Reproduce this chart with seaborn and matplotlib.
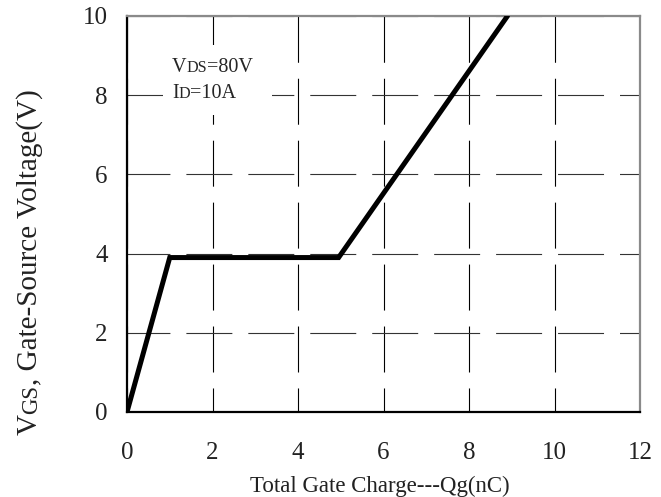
import matplotlib
matplotlib.use("Agg")
import matplotlib.pyplot as plt
from matplotlib.patches import Rectangle
import seaborn as sns

# Gate charge curve: VGS vs total gate charge
qg_nc = [0.0, 1.0, 4.95, 8.9]
vgs_v = [0.0, 3.9, 3.9, 10.0]

x_ticks = [0, 2, 4, 6, 8, 10, 12]
y_ticks = [0, 2, 4, 6, 8, 10]

sns.set_style("white")
plt.rcParams["font.family"] = ["Liberation Serif", "DejaVu Serif"]
plt.rcParams["lines.scale_dashes"] = False

fig = plt.figure(figsize=(6.61, 4.97), dpi=100)
ax = fig.add_axes([127 / 661, 85 / 497, 513 / 661, 396 / 497])

sns.lineplot(x=qg_nc, y=vgs_v, ax=ax, color="black", linewidth=3.6,
             solid_joinstyle="miter", zorder=3)

ax.set_xlim(0, 12)
ax.set_ylim(0, 10)
ax.set_xticks(x_ticks)
ax.set_yticks(y_ticks)
ax.set_xticklabels([str(t) for t in x_ticks])
ax.set_yticklabels([str(t) for t in y_ticks])
ax.tick_params(axis="both", length=0, labelsize=18, colors="#222222")
ax.tick_params(axis="x", pad=21.5)
ax.tick_params(axis="y", pad=14)

# long-dash grid
ax.set_axisbelow(True)
ax.xaxis.grid(True, color="black", linewidth=0.8, linestyle=(15.8, (33.1, 11.5)))
ax.yaxis.grid(True, color="#333333", linewidth=0.8, linestyle=(2.2, (33.1, 11.5)))

for side in ("left", "bottom"):
    ax.spines[side].set_color("black")
    ax.spines[side].set_linewidth(1.6)
for side in ("top", "right"):
    ax.spines[side].set_color("#8a8a8a")
    ax.spines[side].set_linewidth(1.6)

# white panel behind the test conditions
ax.add_patch(Rectangle((0.07, 0.75), 0.213, 0.177, transform=ax.transAxes,
                       facecolor="white", edgecolor="none", zorder=1))

def cond_text(x, y, main, sub, rest, size=14.5):
    t1 = ax.text(x, y, main, transform=ax.transAxes, va="baseline",
                 ha="left", fontsize=size, zorder=4)
    t2 = ax.annotate(sub, xy=(1, y), xycoords=(t1, "axes fraction"),
                     va="baseline", ha="left", fontsize=size * 0.8, zorder=4)
    ax.annotate(rest, xy=(1, y), xycoords=(t2, "axes fraction"),
                va="baseline", ha="left", fontsize=size, zorder=4)

cond_text(0.0877, 0.8586, "V", "DS", "=80V")
cond_text(0.0877, 0.7929, "I", "D", "=10A")

# axis titles
fig.text(380 / 661, 5 / 497, "Total Gate Charge---Qg(nC)", ha="center",
         va="baseline", fontsize=16.5, color="#222222")

yl_size = 21
yl_x = 37 / 661
y1 = fig.text(yl_x, (497 - 435) / 497, "V", rotation=90, rotation_mode="anchor",
              ha="left", va="baseline", fontsize=yl_size, color="#222222")
y2 = fig.text(0, 0, "GS", rotation=90, rotation_mode="anchor",
              ha="left", va="baseline", fontsize=yl_size * 0.78, color="#222222")
fig.canvas.draw()
r = fig.canvas.get_renderer()
bb1 = y1.get_window_extent(r)
y2.set_position((yl_x, bb1.y1 / fig.bbox.height))
fig.canvas.draw()
bb2 = y2.get_window_extent(r)
fig.text(yl_x, bb2.y1 / fig.bbox.height, ", Gate-Source Voltage(V)", rotation=90,
         rotation_mode="anchor", ha="left", va="baseline", fontsize=yl_size,
         color="#222222")

fig.savefig("out.png", dpi=100)
